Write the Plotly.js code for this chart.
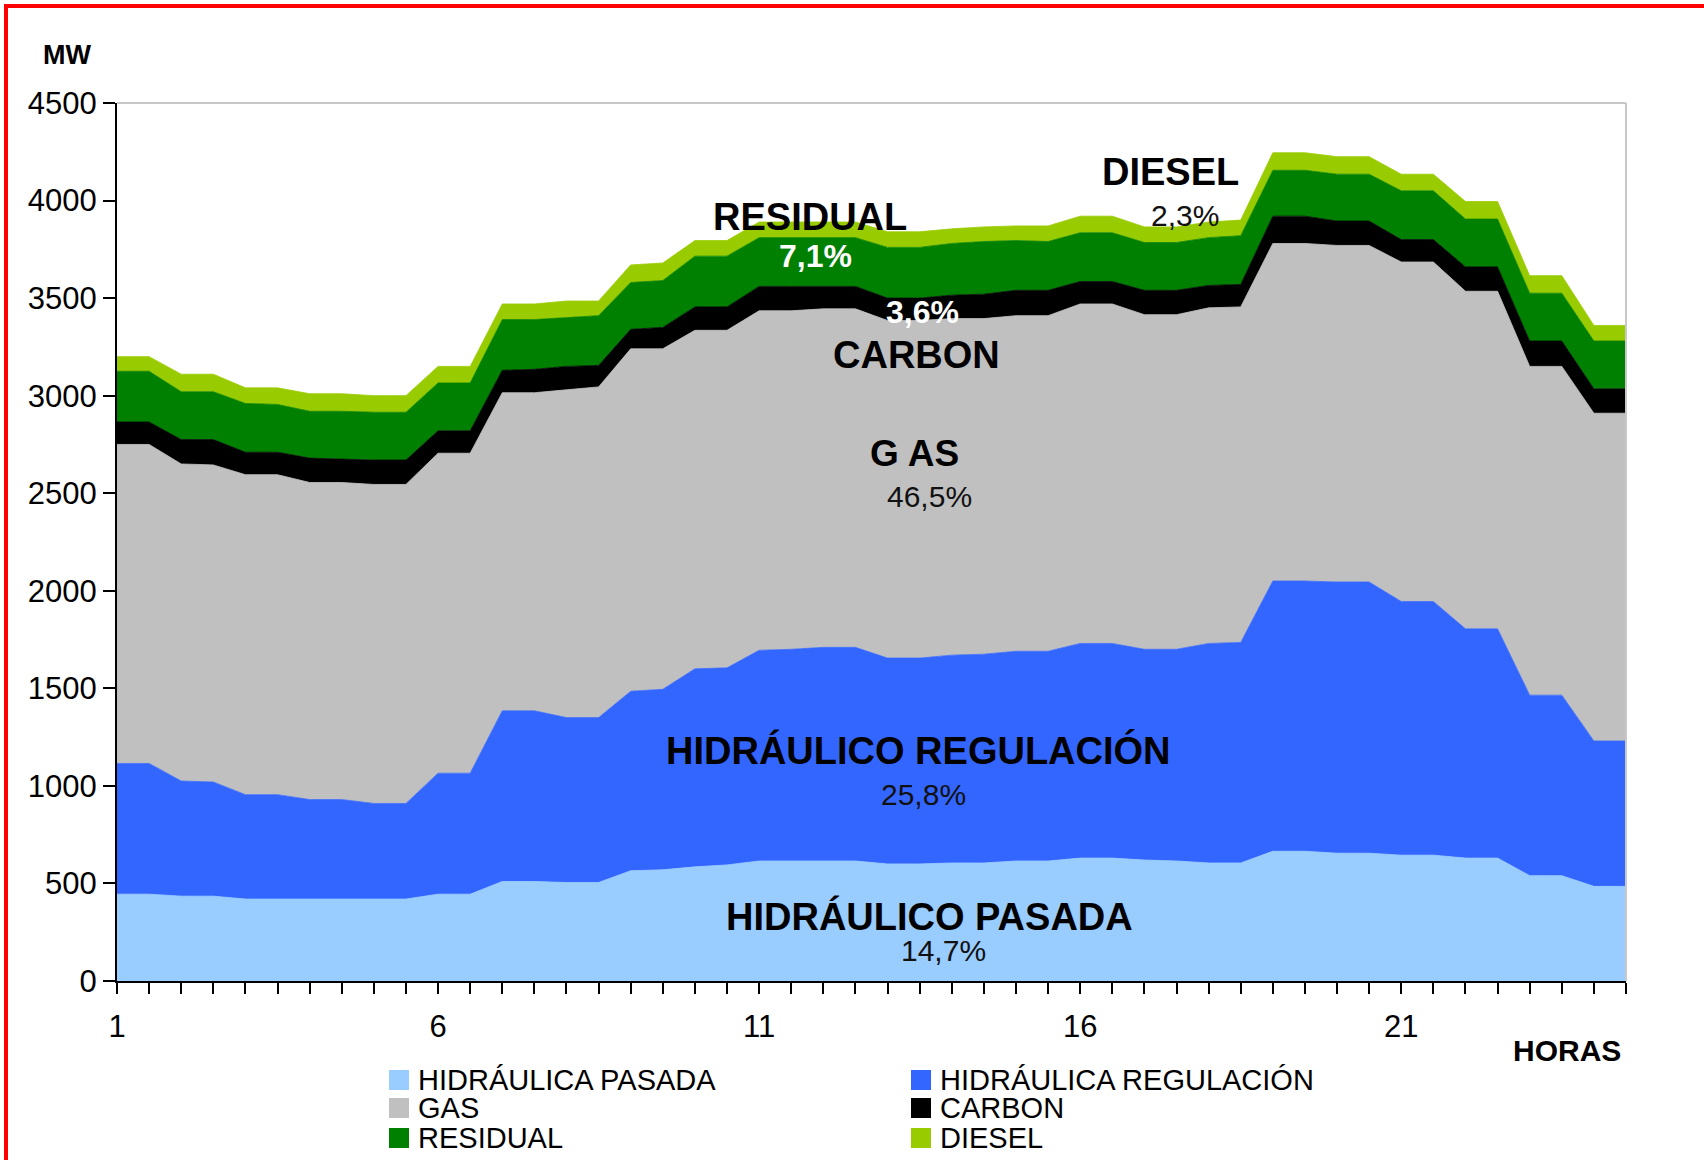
<!DOCTYPE html>
<html>
<head>
<meta charset="utf-8">
<script src="https://cdn.plot.ly/plotly-3.0.1.min.js"></script>
<style>
    body { margin: 0; background: white; }
    #graph { width: 1704px; height: 1160px; }
    #marco {
        position: absolute; left: 4px; top: 4px; width: 1700px; height: 1156px;
        border-top: 4px solid #ff0000; border-left: 4px solid #ff0000;
        pointer-events: none;
    }
</style>
</head>
<body>
<div id="graph"></div>
<div id="marco"></div>
<script>
// horas del día (cada hora ocupa dos puntos en el eje)
const horas = Array.from({ length: 24 }, (_, i) => i + 1)

// MW por tecnología, dos puntos por hora
const pasada = [445,445,435,435,420,420,420,420,420,420,445,445,510,510,505,505,565,570,585,595,615,615,615,615,600,600,605,605,615,615,630,630,620,615,605,605,665,665,655,655,645,645,630,630,540,540,485,485]
const regulacion = [670,670,590,585,535,535,510,510,490,490,620,620,875,875,845,845,920,925,1015,1010,1080,1085,1095,1095,1055,1055,1065,1070,1075,1075,1100,1100,1080,1085,1125,1130,1385,1385,1390,1390,1300,1300,1175,1175,925,925,745,745]
const gas = [1635,1635,1625,1625,1640,1640,1625,1625,1635,1635,1640,1640,1630,1630,1680,1695,1755,1745,1735,1730,1740,1735,1735,1735,1730,1730,1725,1720,1720,1720,1740,1740,1715,1715,1720,1720,1730,1730,1725,1725,1740,1740,1730,1730,1685,1685,1680,1680]
const carbon = [115,115,125,130,115,115,125,120,125,125,115,115,115,120,120,110,100,110,120,120,125,125,115,115,115,115,120,125,130,130,115,115,125,125,115,115,140,140,125,125,115,115,125,125,130,130,125,125]
const residual = [260,260,245,245,250,245,240,245,245,245,245,245,260,255,250,255,240,240,260,260,250,250,250,250,260,260,265,270,255,250,250,250,245,245,245,250,235,235,240,240,250,250,245,245,245,245,245,245]
const diesel = [75,75,90,90,80,85,90,90,85,85,85,85,80,80,85,75,90,90,80,80,80,80,80,80,80,80,75,75,75,80,85,85,80,80,80,80,90,90,90,90,85,85,90,90,90,90,80,80]

const nombres = ['HIDRÁULICA PASADA', 'HIDRÁULICA REGULACIÓN', 'GAS', 'CARBON', 'RESIDUAL', 'DIESEL']
const colores = ['#99ccff', '#3366ff', '#c0c0c0', '#000000', '#008000', '#99cc00']
const series = [pasada, regulacion, gas, carbon, residual, diesel]

// etiquetas dentro del gráfico
const etiquetas = ['RESIDUAL', 'DIESEL', 'CARBON', 'G AS', 'HIDRÁULICO REGULACIÓN', 'HIDRÁULICO PASADA']
const porcentajes = ['7,1%', '2,3%', '3,6%', '46,5%', '25,8%', '14,7%']

const fuente = 'Liberation Sans, Arial, sans-serif'

// categorías del eje x: 48 medias horas, etiqueta cada 10
const cats = horas.flatMap(h => [h, h])
const xs = cats.map((_, i) => i)
const ticktext = cats.map((h, i) => i % 10 === 0 ? String(h) : '')

const trazas = series.map((s, k) => ({
    x: xs,
    y: s,
    type: 'scatter',
    mode: 'lines',
    stackgroup: 'uno',
    name: nombres[k],
    line: { width: 0.8, color: colores[k] },
    fillcolor: colores[k],
    hoverinfo: 'skip',
    showlegend: false
}))

// pasar pixeles de la imagen a coordenadas del papel
const L = 117, R = 1626, T = 103, B = 981
const px = x => (x - L) / (R - L)
const py = y => (B - y) / (B - T)

function texto(t, x, y, size, color, bold) {
    return {
        text: bold ? '<b>' + t + '</b>' : t,
        xref: 'paper', yref: 'paper', x: px(x), y: py(y),
        xanchor: 'center', yanchor: 'middle', showarrow: false,
        font: { family: fuente, size: size, color: color }
    }
}

const anotaciones = [
    texto(etiquetas[0], 810, 217, 38, '#000', true),
    texto(porcentajes[0], 815, 256, 32, '#fff', true),
    texto(etiquetas[1], 1170, 172, 38, '#000', true),
    texto(porcentajes[1], 1185, 215, 30, '#111', false),
    texto(porcentajes[2], 922, 312, 32, '#fff', true),
    texto(etiquetas[2], 916, 355, 38, '#000', true),
    texto(etiquetas[3], 914, 453, 37, '#000', true),
    texto(porcentajes[3], 929, 496, 30, '#111', false),
    texto(etiquetas[4], 918, 751, 38, '#000', true),
    texto(porcentajes[4], 924, 794, 30, '#111', false),
    texto(etiquetas[5], 929, 916, 38, '#000', true),
    texto(porcentajes[5], 943, 950, 30, '#111', false),
    texto('MW', 67, 55, 27, '#000', true),
    texto('HORAS', 1567, 1050, 30, '#000', true)
]

// leyenda en dos columnas
const formas = [
    { type: 'line', xref: 'paper', yref: 'paper', x0: 0, x1: 1, y0: 1, y1: 1, line: { color: '#c8c8c8', width: 2 } },
    { type: 'line', xref: 'paper', yref: 'paper', x0: 1, x1: 1, y0: 0, y1: 1, line: { color: '#c8c8c8', width: 2 } }
]
const colX = [389, 911]
const filaY = [1080, 1108, 1138]
nombres.forEach((n, k) => {
    const cx = colX[k % 2]
    const cy = filaY[Math.floor(k / 2)]
    formas.push({
        type: 'rect', xref: 'paper', yref: 'paper',
        x0: px(cx), x1: px(cx + 20), y0: py(cy - 10), y1: py(cy + 10),
        fillcolor: colores[k], line: { width: 0 }
    })
    anotaciones.push({
        text: n, xref: 'paper', yref: 'paper', x: px(cx + 27), y: py(cy),
        xanchor: 'left', yanchor: 'middle', showarrow: false,
        font: { family: fuente, size: 29, color: '#000' }
    })
})

const layout = {
    width: 1704,
    height: 1160,
    margin: { l: L, r: 1704 - R, t: T, b: 1160 - B },
    paper_bgcolor: 'white',
    plot_bgcolor: 'white',
    font: { family: fuente, size: 31, color: '#000' },
    showlegend: false,
    xaxis: {
        range: [0, 47],
        tickvals: xs,
        ticktext: ticktext,
        ticks: 'outside',
        ticklen: 11,
        tickwidth: 2,
        tickcolor: '#000',
        ticklabelstandoff: 6,
        showline: true,
        linecolor: '#000',
        linewidth: 2,
        showgrid: false,
        zeroline: false,
        tickfont: { size: 31 }
    },
    yaxis: {
        range: [0, 4500],
        dtick: 500,
        ticks: 'outside',
        ticklen: 12,
        tickwidth: 2,
        tickcolor: '#000',
        showline: true,
        linecolor: '#000',
        linewidth: 2,
        showgrid: false,
        zeroline: false,
        tickfont: { size: 31 }
    },
    shapes: formas,
    annotations: anotaciones
}

Plotly.newPlot('graph', trazas, layout, { staticPlot: true })
</script>
</body>
</html>
